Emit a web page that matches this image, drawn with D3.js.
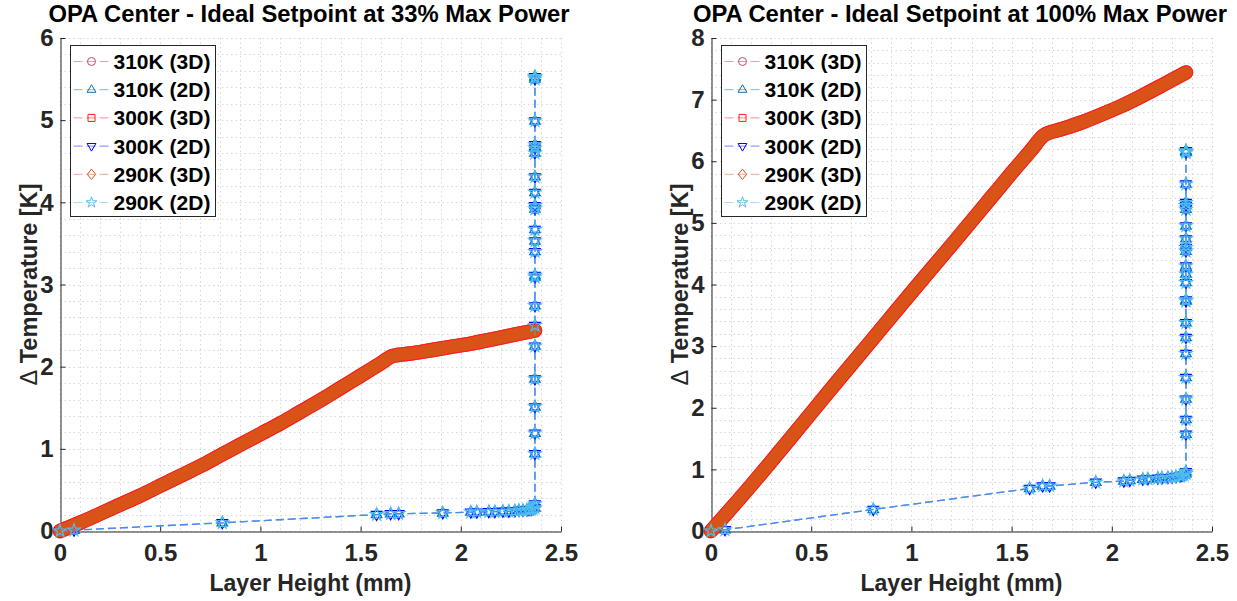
<!DOCTYPE html>
<html>
<head>
<meta charset="utf-8">
<script src="https://cdn.jsdelivr.net/npm/d3@7"></script>
<style>
  body { margin: 0; background: #fff; }
  svg { display: block; }
  text { font-family: "Liberation Sans", Arial, Helvetica, sans-serif; font-weight: bold; }
</style>
</head>
<body>
<svg id="fig" width="1237" height="601"></svg>
<script>
// ---- data -------------------------------------------------------------
const seriesNames = ["310K (3D)", "310K (2D)", "300K (3D)", "300K (2D)", "290K (3D)", "290K (2D)"];
const xTicks = [0, 0.5, 1, 1.5, 2, 2.5];
const yTicks33 = [0, 1, 2, 3, 4, 5, 6];
const yTicks100 = [0, 1, 2, 3, 4, 5, 6, 7, 8];

// 33 % max power, 3D model (layer height in mm, temperature rise in K)
const height33_3D = [0, 0.1, 0.2, 0.3, 0.4, 0.5, 0.6, 0.7, 0.8, 0.9, 1.0, 1.1, 1.2, 1.3, 1.4, 1.5, 1.6, 1.66,
  1.75, 1.85, 1.95, 2.05, 2.15, 2.25, 2.37];
const dT33_3D = [0, 0.10, 0.21, 0.32, 0.43, 0.55, 0.67, 0.79, 0.92, 1.05, 1.18, 1.31, 1.45, 1.59, 1.74, 1.89, 2.04, 2.13,
  2.16, 2.20, 2.24, 2.28, 2.33, 2.38, 2.44];

// 33 % max power, 2D model
const height33_2D = [0, 0.07, 0.81, 1.58, 1.65, 1.69, 1.91, 2.05, 2.08, 2.14, 2.17, 2.21, 2.24, 2.27,
  2.29, 2.31, 2.33, 2.34, 2.35, 2.36, 2.37,
  2.37, 2.37, 2.37, 2.37, 2.37, 2.37, 2.37, 2.37, 2.37, 2.37, 2.37, 2.37, 2.37, 2.37, 2.37, 2.37,
  2.37, 2.37, 2.37, 2.37, 2.37, 2.37, 2.37, 2.37];
const dT33_2D = [0, 0.01, 0.10, 0.20, 0.21, 0.21, 0.22, 0.23, 0.23, 0.235, 0.235, 0.24, 0.24, 0.245,
  0.25, 0.25, 0.255, 0.26, 0.26, 0.27, 0.28,
  0.33, 0.94, 1.19, 1.51, 1.85, 2.25, 2.50, 2.74, 3.09, 3.11, 3.40, 3.53, 3.67, 3.92, 3.96, 4.12,
  4.31, 4.60, 4.66, 4.70, 4.99, 5.50, 5.52, 5.53];

// 100 % max power, 3D model
const height100_3D = [0, 0.2, 0.4, 0.6, 0.8, 1.0, 1.2, 1.4, 1.5, 1.6, 1.66,
  1.75, 1.85, 1.95, 2.05, 2.15, 2.25, 2.37];
const dT100_3D = [0, 0.74, 1.52, 2.31, 3.09, 3.87, 4.64, 5.42, 5.81, 6.19, 6.42,
  6.52, 6.63, 6.76, 6.90, 7.06, 7.23, 7.44];

// 100 % max power, 2D model
const height100_2D = [0, 0.07, 0.81, 1.59, 1.655, 1.69, 1.92, 2.06, 2.09, 2.155, 2.18, 2.23, 2.25, 2.28,
  2.30, 2.32, 2.34, 2.35, 2.36, 2.37,
  2.37, 2.37, 2.37, 2.37, 2.37, 2.37, 2.37, 2.37, 2.37, 2.37, 2.37, 2.37, 2.37, 2.37, 2.37, 2.37,
  2.37, 2.37, 2.37, 2.37, 2.37, 2.37, 2.37, 2.37];
const dT100_2D = [0, 0.02, 0.35, 0.69, 0.73, 0.73, 0.79, 0.81, 0.82, 0.84, 0.845, 0.855, 0.86, 0.866,
  0.87, 0.88, 0.89, 0.90, 0.91, 0.93,
  0.96, 1.57, 1.81, 2.14, 2.49, 2.88, 3.14, 3.38, 3.73, 3.75, 4.03, 4.17, 4.30, 4.54, 4.60, 4.74,
  4.95, 5.22, 5.28, 5.33, 5.63, 6.14, 6.16, 6.17];

// ---- styling ----------------------------------------------------------
const seriesStyle = [
  { color: "#C04A66", marker: "circle",   model: "3D" },
  { color: "#0072BD", marker: "triUp",    model: "2D" },
  { color: "#FF1A1A", marker: "square",   model: "3D" },
  { color: "#0000FF", marker: "triDown",  model: "2D" },
  { color: "#D95319", marker: "diamond",  model: "3D" },
  { color: "#4DBEEE", marker: "star",     model: "2D" }
];
const bandWidth = [14.5, null, 14.5, null, 12.5, null];

const panels = [
  { title: "OPA Center - Ideal Setpoint at 33% Max Power", left: 60, right: 561, yMax: 6, yTicks: yTicks33,
    h3: height33_3D, t3: dT33_3D, h2: height33_2D, t2: dT33_2D },
  { title: "OPA Center - Ideal Setpoint at 100% Max Power", left: 711, right: 1212, yMax: 8, yTicks: yTicks100,
    h3: height100_3D, t3: dT100_3D, h2: height100_2D, t2: dT100_2D }
];
const plotTop = 38, plotBottom = 531;
const axisColor = "#262626";

function markerPath(type, big) {
  const k = big ? 1.2 : 1;
  switch (type) {
    case "circle":  return d3.symbol(d3.symbolCircle, 50)();
    case "square":  return "M-3.5,-3.5H3.5V3.5H-3.5Z";
    case "triUp":   return `M0,${-5 * k}L${4.4 * k},${2.6 * k}L${-4.4 * k},${2.6 * k}Z`;
    case "triDown": return `M0,${5 * k}L${4.4 * k},${-2.6 * k}L${-4.4 * k},${-2.6 * k}Z`;
    case "diamond": return "M0,-5.2L4.2,0L0,5.2L-4.2,0Z";
    case "star":    return d3.symbol(d3.symbolStar, big ? 48 : 36)();
  }
}

const svg = d3.select("#fig");
svg.append("rect").attr("width", 1237).attr("height", 601).attr("fill", "#fff");

panels.forEach(p => {
  const x = d3.scaleLinear([0, 2.5], [p.left, p.right]);
  const y = d3.scaleLinear([0, p.yMax], [plotBottom, plotTop]);
  const g = svg.append("g");

  // dotted grid (minor spacing covers the major lines too)
  const grid = g.append("g").attr("fill", "none");
  grid.selectAll(".gx").data(x.ticks(25)).join("line")
    .attr("x1", d => Math.round(x(d)) + 0.5).attr("x2", d => Math.round(x(d)) + 0.5)
    .attr("y1", plotTop).attr("y2", plotBottom)
    .attr("stroke", "#d8d8d8").attr("stroke-dasharray", "1.5,3");
  grid.selectAll(".gy").data(y.ticks(p.yMax * 5)).join("line")
    .attr("y1", d => Math.round(y(d)) + 0.5).attr("y2", d => Math.round(y(d)) + 0.5)
    .attr("x1", p.left).attr("x2", p.right)
    .attr("stroke", "#d8d8d8").attr("stroke-dasharray", "1.5,3");

  // axes (inward ticks, left and bottom only)
  const ax = g.append("g").attr("transform", `translate(0,${plotBottom + 0.5})`)
    .call(d3.axisBottom(x).tickValues(xTicks).tickSizeInner(-5).tickSizeOuter(0).tickPadding(12)
      .tickFormat(d3.format("")));
  const ay = g.append("g").attr("transform", `translate(${p.left + 0.5},0)`)
    .call(d3.axisLeft(y).tickValues(p.yTicks).tickSizeInner(-5).tickSizeOuter(0).tickPadding(7)
      .tickFormat(d3.format("")));
  [ax, ay].forEach(a => {
    a.select(".domain").attr("stroke", axisColor);
    a.selectAll(".tick line").attr("stroke", axisColor);
    a.selectAll(".tick text").attr("fill", axisColor).style("font-size", "24px").style("font-weight", "bold")
      .style("font-family", '"Liberation Sans", Arial, sans-serif');
  });

  // series
  const data3 = p.h3.map((h, i) => [h, p.t3[i]]);
  const data2 = p.h2.map((h, i) => [h, p.t2[i]]);
  const line = d3.line().x(d => x(d[0])).y(d => y(d[1])).curve(d3.curveMonotoneX);
  const line2 = d3.line().x(d => x(d[0])).y(d => y(d[1]));

  seriesStyle.forEach((s, si) => {
    if (s.model === "3D") {
      // densely sampled 3D results render as a solid band of markers
      g.append("path").attr("d", line(data3)).attr("fill", "none")
        .attr("stroke", s.color).attr("stroke-width", bandWidth[si])
        .attr("stroke-linecap", "round").attr("stroke-linejoin", "round");
    } else {
      g.append("path").attr("d", line2(data2)).attr("fill", "none")
        .attr("stroke", s.color).attr("stroke-opacity", 0.5).attr("stroke-width", 1.3)
        .attr("stroke-dasharray", "8,4");
      g.append("g").selectAll("path").data(data2).join("path")
        .attr("transform", d => `translate(${x(d[0])},${y(d[1])})`)
        .attr("d", markerPath(s.marker, true))
        .attr("fill", "none").attr("stroke", s.color).attr("stroke-width", 1.2);
    }
  });

  // title and axis labels
  const cx = (p.left + p.right) / 2;
  svg.append("text").attr("x", cx - 1.5).attr("y", 21.5).attr("text-anchor", "middle")
    .style("font-size", "23.8px").attr("fill", "#000").text(p.title);
  svg.append("text").attr("x", cx).attr("y", 591).attr("text-anchor", "middle")
    .style("font-size", "23px").attr("fill", axisColor).text("Layer Height (mm)");
  const yl = svg.append("text")
    .attr("transform", `translate(${p.left - 23.5},${(plotTop + plotBottom) / 2}) rotate(-90)`)
    .attr("text-anchor", "middle").style("font-size", "23.5px").attr("fill", axisColor);
  yl.append("tspan").style("font-weight", "normal").text("\u0394");
  yl.append("tspan").text(" Temperature [K]");

  // legend
  const bx = p.left + 10.5, by = 45.5;
  const lg = svg.append("g");
  lg.append("rect").attr("x", bx).attr("y", by).attr("width", 145).attr("height", 171)
    .attr("fill", "#fff").attr("stroke", axisColor).attr("stroke-width", 1);
  seriesNames.forEach((name, i) => {
    const s = seriesStyle[i];
    const ry = 61.5 + i * 28.2;
    lg.append("line").attr("x1", bx + 3).attr("x2", bx + 38).attr("y1", ry).attr("y2", ry)
      .attr("stroke", s.color).attr("stroke-opacity", 0.5).attr("stroke-dasharray", "9,4");
    lg.append("path").attr("transform", `translate(${bx + 21},${ry})`).attr("d", markerPath(s.marker, false))
      .attr("fill", "none").attr("stroke", s.color).attr("stroke-width", 1);
    lg.append("text").attr("x", bx + 43).attr("y", ry + 7.5).style("font-size", "21px")
      .attr("fill", "#000").text(name);
  });
});
</script>
</body>
</html>
